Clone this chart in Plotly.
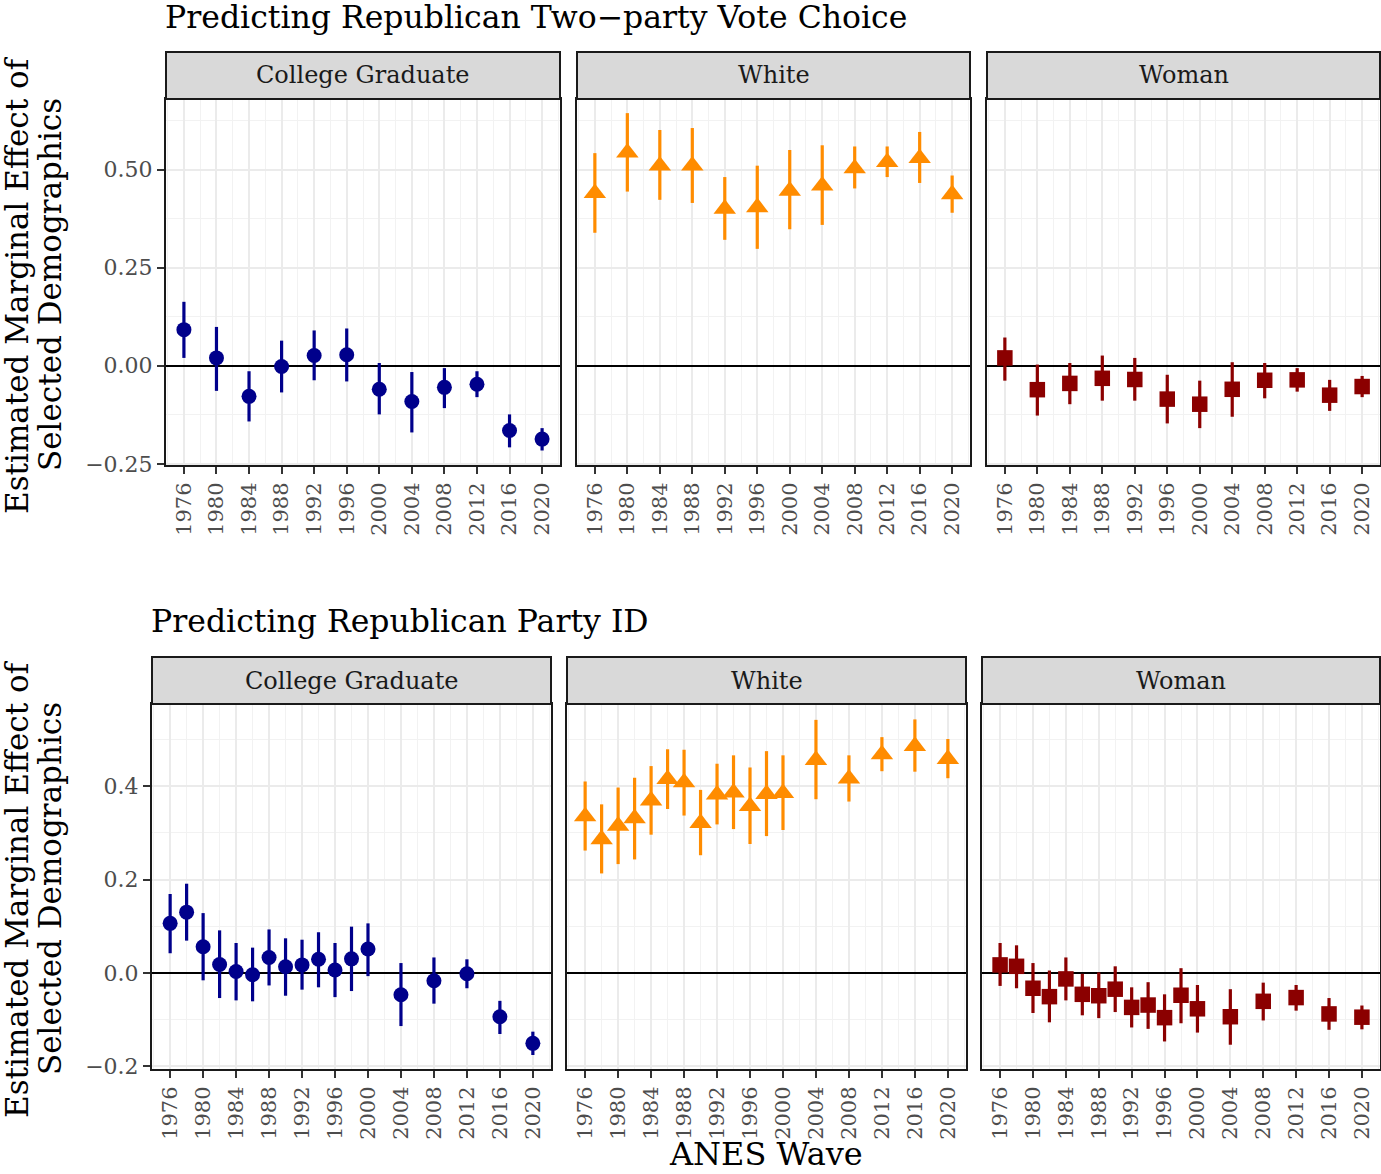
import plotly.graph_objects as go

# ---------------- data ----------------
years_vote = [1976, 1980, 1984, 1988, 1992, 1996, 2000, 2004, 2008, 2012, 2016, 2020]
years_pid = [1976, 1978, 1980, 1982, 1984, 1986, 1988, 1990, 1992, 1994, 1996, 1998, 2000,
             2004, 2008, 2012, 2016, 2020]

vote_college_est = [0.092, 0.020, -0.078, -0.002, 0.026, 0.028, -0.060, -0.091, -0.055, -0.047, -0.165, -0.187]
vote_college_lo = [0.020, -0.064, -0.142, -0.068, -0.037, -0.040, -0.124, -0.170, -0.108, -0.080, -0.208, -0.216]
vote_college_hi = [0.163, 0.099, -0.014, 0.064, 0.090, 0.095, 0.007, -0.016, -0.006, -0.014, -0.124, -0.159]

vote_white_est = [0.440, 0.543, 0.510, 0.510, 0.400, 0.404, 0.446, 0.459, 0.503, 0.519, 0.529, 0.437]
vote_white_lo = [0.339, 0.444, 0.423, 0.415, 0.321, 0.298, 0.348, 0.359, 0.452, 0.481, 0.466, 0.390]
vote_white_hi = [0.542, 0.644, 0.601, 0.606, 0.481, 0.510, 0.550, 0.562, 0.559, 0.559, 0.596, 0.485]

vote_woman_est = [0.020, -0.061, -0.045, -0.032, -0.035, -0.085, -0.098, -0.060, -0.037, -0.036, -0.075, -0.053]
vote_woman_lo = [-0.038, -0.127, -0.098, -0.089, -0.089, -0.147, -0.159, -0.130, -0.083, -0.066, -0.115, -0.080]
vote_woman_hi = [0.072, 0.003, 0.007, 0.026, 0.020, -0.023, -0.038, 0.009, 0.007, -0.006, -0.036, -0.026]

pid_college_est = [0.106, 0.130, 0.056, 0.018, 0.003, -0.004, 0.033, 0.013, 0.017, 0.029, 0.006, 0.030, 0.051,
                   -0.047, -0.017, -0.002, -0.094, -0.151]
pid_college_lo = [0.042, 0.069, -0.016, -0.054, -0.059, -0.061, -0.027, -0.049, -0.036, -0.031, -0.052, -0.039, -0.007,
                  -0.114, -0.066, -0.033, -0.131, -0.176]
pid_college_hi = [0.169, 0.191, 0.128, 0.091, 0.064, 0.054, 0.093, 0.074, 0.071, 0.087, 0.064, 0.099, 0.106,
                  0.021, 0.033, 0.029, -0.060, -0.126]

pid_white_est = [0.335, 0.286, 0.315, 0.331, 0.369, 0.415, 0.408, 0.321, 0.382, 0.386, 0.357, 0.383, 0.385,
                 0.456, 0.416, 0.468, 0.486, 0.458]
pid_white_lo = [0.262, 0.213, 0.233, 0.243, 0.296, 0.351, 0.337, 0.252, 0.318, 0.308, 0.276, 0.293, 0.306,
                0.372, 0.367, 0.432, 0.431, 0.417]
pid_white_hi = [0.410, 0.361, 0.397, 0.418, 0.443, 0.479, 0.478, 0.392, 0.448, 0.466, 0.440, 0.475, 0.466,
                0.542, 0.466, 0.505, 0.543, 0.501]

pid_woman_est = [0.017, 0.014, -0.033, -0.051, -0.013, -0.046, -0.049, -0.035, -0.074, -0.069, -0.096, -0.048, -0.077,
                 -0.094, -0.061, -0.053, -0.088, -0.095]
pid_woman_lo = [-0.028, -0.033, -0.086, -0.106, -0.059, -0.091, -0.097, -0.084, -0.117, -0.120, -0.147, -0.108, -0.128,
                -0.154, -0.102, -0.081, -0.122, -0.121]
pid_woman_hi = [0.064, 0.059, 0.021, 0.005, 0.033, -0.002, 0.001, 0.014, -0.031, -0.020, -0.046, 0.010, -0.026,
                -0.035, -0.021, -0.026, -0.054, -0.070]

facet_names = ["College Graduate", "White", "Woman"]
row_titles = ["Predicting Republican Two\u2212party Vote Choice", "Predicting Republican Party ID"]
y_title_lines = ["Estimated Marginal Effect of", "Selected Demographics"]
x_title = "ANES Wave"

x_tick_years = list(range(1976, 2021, 4))
x_minor_years = list(range(1974, 2023, 4))
top_y_ticks = [-0.25, 0.0, 0.25, 0.5]
top_y_labels = ["\u22120.25", "0.00", "0.25", "0.50"]
top_y_minor = [-0.125, 0.125, 0.375, 0.625]
bot_y_ticks = [-0.2, 0.0, 0.2, 0.4]
bot_y_labels = ["\u22120.2", "0.0", "0.2", "0.4"]
bot_y_minor = [-0.1, 0.1, 0.3, 0.5]

# ---------------- styling ----------------
W, H = 1381, 1174
FONT = "DejaVu Serif"
colors = ["#00008B", "#FF8C00", "#8B0000"]
symbols = ["circle", "triangle-up", "square"]
sizes = [15, 19.5, 15.5]

top_x_px = [(166, 560), (577, 970), (987, 1380)]
bot_x_px = [(152, 551), (567, 966), (982, 1380)]
top_y_px = (99, 465)
bot_y_px = (704, 1069)
top_strip_px = (52, 99)
bot_strip_px = (657, 704)

def px_x(v):
    return v / W

def px_y(v):
    return 1 - v / H

fig = go.Figure()

rows = [
    dict(years=years_vote,
         series=[(vote_college_est, vote_college_lo, vote_college_hi),
                 (vote_white_est, vote_white_lo, vote_white_hi),
                 (vote_woman_est, vote_woman_lo, vote_woman_hi)],
         xpx=top_x_px, ypx=top_y_px, strip=top_strip_px,
         yr=[-0.253, 0.68], yt=top_y_ticks, yl=top_y_labels, ym=top_y_minor),
    dict(years=years_pid,
         series=[(pid_college_est, pid_college_lo, pid_college_hi),
                 (pid_white_est, pid_white_lo, pid_white_hi),
                 (pid_woman_est, pid_woman_lo, pid_woman_hi)],
         xpx=bot_x_px, ypx=bot_y_px, strip=bot_strip_px,
         yr=[-0.206, 0.576], yt=bot_y_ticks, yl=bot_y_labels, ym=bot_y_minor),
]

layout_axes = {}
shapes = []
annotations = []
n = 0
for r, row in enumerate(rows):
    for c in range(3):
        n += 1
        suffix = "" if n == 1 else str(n)
        est, lo, hi = row["series"][c]
        fig.add_trace(go.Scatter(
            x=row["years"], y=est, mode="markers",
            xaxis="x" + suffix, yaxis="y" + suffix,
            marker=dict(symbol=symbols[c], size=sizes[c], color=colors[c], line=dict(width=0)),
            error_y=dict(type="data", symmetric=False,
                         array=[h - e for h, e in zip(hi, est)],
                         arrayminus=[e - l for e, l in zip(est, lo)],
                         width=0, thickness=3.2, color=colors[c]),
            showlegend=False, hoverinfo="x+y",
        ))
        x0, x1 = row["xpx"][c]
        yt0, yb0 = row["ypx"]
        layout_axes["xaxis" + suffix] = dict(
            domain=[px_x(x0), px_x(x1)], anchor="y" + suffix,
            range=[1973.8, 2022.2], tickmode="array", tickvals=x_tick_years,
            ticktext=[str(v) for v in x_tick_years], tickangle=-90,
            ticks="outside", ticklen=7, tickwidth=2, tickcolor="#333333",
            tickfont=dict(family=FONT, size=21, color="#4D4D4D"),
            showgrid=True, gridcolor="#EBEBEB", gridwidth=1.6,
            minor=dict(tickmode="array", tickvals=x_minor_years, showgrid=True,
                       gridcolor="#F2F2F2", gridwidth=1.0, ticks=""),
            showline=True, mirror=True, linecolor="#1A1A1A", linewidth=2,
            zeroline=False, fixedrange=True, automargin=False,
        )
        ax = dict(
            domain=[px_y(yb0), px_y(yt0)], anchor="x" + suffix,
            range=row["yr"], tickmode="array", tickvals=row["yt"], ticktext=row["yl"],
            showgrid=True, gridcolor="#EBEBEB", gridwidth=1.6,
            minor=dict(tickmode="array", tickvals=row["ym"], showgrid=True,
                       gridcolor="#F2F2F2", gridwidth=1.0, ticks=""),
            showline=True, mirror=True, linecolor="#1A1A1A", linewidth=2,
            zeroline=True, zerolinecolor="black", zerolinewidth=2.2, fixedrange=True,
            automargin=False,
        )
        if c == 0:
            ax.update(ticks="outside", ticklen=7, tickwidth=2, tickcolor="#333333",
                      showticklabels=True,
                      tickfont=dict(family=FONT, size=22, color="#4D4D4D"))
        else:
            ax.update(ticks="", showticklabels=False)
        layout_axes["yaxis" + suffix] = ax

        # facet strip
        s0, s1 = row["strip"]
        shapes.append(dict(type="rect", xref="paper", yref="paper",
                           x0=px_x(x0), x1=px_x(x1), y0=px_y(s1), y1=px_y(s0),
                           fillcolor="#D9D9D9", line=dict(color="#1A1A1A", width=2), layer="above"))
        annotations.append(dict(text=facet_names[c], xref="paper", yref="paper",
                                x=px_x((x0 + x1) / 2), y=px_y((s0 + s1) / 2),
                                xanchor="center", yanchor="middle", showarrow=False,
                                font=dict(family=FONT, size=24, color="#1A1A1A")))

# row titles
annotations.append(dict(text=row_titles[0], xref="paper", yref="paper",
                        x=px_x(163), y=px_y(17), xanchor="left", yanchor="middle",
                        showarrow=False, font=dict(family=FONT, size=31.5, color="black")))
annotations.append(dict(text=row_titles[1], xref="paper", yref="paper",
                        x=px_x(149), y=px_y(621), xanchor="left", yanchor="middle",
                        showarrow=False, font=dict(family=FONT, size=31.5, color="black")))
# y titles (two separate lines)
for ypx in [285, 889]:
    for xline, txt in zip([17, 50], y_title_lines):
        annotations.append(dict(text=txt, xref="paper", yref="paper",
                                x=px_x(xline), y=px_y(ypx), xanchor="center", yanchor="middle",
                                textangle=-90, showarrow=False,
                                font=dict(family=FONT, size=31, color="black")))
# x title
annotations.append(dict(text=x_title, xref="paper", yref="paper",
                        x=px_x(766), y=px_y(1154), xanchor="center", yanchor="middle",
                        showarrow=False, font=dict(family=FONT, size=32, color="black")))

fig.update_layout(
    width=W, height=H, margin=dict(l=0, r=0, t=0, b=0, autoexpand=False),
    plot_bgcolor="white", paper_bgcolor="white", showlegend=False,
    shapes=shapes, annotations=annotations, **layout_axes,
)

fig.write_html("out.html", config={"displayModeBar": False},
               post_script="document.documentElement.style.margin='0';document.body.style.margin='0';")
